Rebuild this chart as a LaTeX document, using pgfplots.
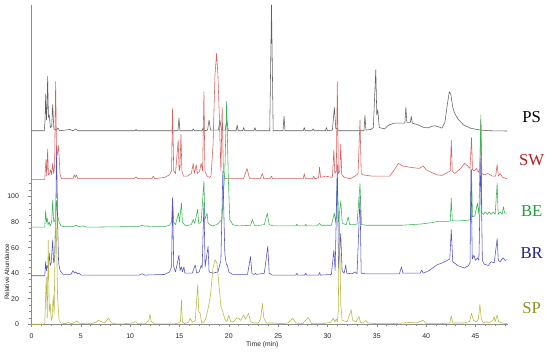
\documentclass[border=0pt]{standalone}
\usepackage{fontspec}
\setmainfont{Liberation Sans}
\newfontfamily\serif{Liberation Serif}
\usepackage{pgfplots}
\pgfplotsset{compat=1.18}

\definecolor{psline}{HTML}{606060}
\definecolor{swline}{HTML}{DB5C5C}
\definecolor{beline}{HTML}{36B552}
\definecolor{brline}{HTML}{5252C6}
\definecolor{spline}{HTML}{B8B845}
\definecolor{swlab}{HTML}{B01E1E}
\definecolor{belab}{HTML}{1F9E3A}
\definecolor{brlab}{HTML}{1F1F99}
\definecolor{splab}{HTML}{8F8F1F}

\begin{document}
\begin{tikzpicture}
% page = 550 x 354 px at 0.75pt per px, axis origin at (31.5px, 324.3px from top)
\path[use as bounding box] (-23.6pt,-22.3pt) rectangle (388.9pt,243.2pt);
\begin{axis}[
  scale only axis, width=357.4pt, height=239.5pt,
  xmin=0, xmax=48.3, ymin=0, ymax=250,
  axis lines=left, axis line style={-, black!45, line width=0.5pt},
  tick align=outside, tick style={black!45, line width=0.4pt},
  major tick length=2.4pt, minor tick length=1.6pt,
  xtick={0,5,...,45}, minor xtick={1,...,48},
  ytick={0,20,...,100},
  minor ytick={5,10,15,25,30,35,45,50,55,65,70,75,85,90,95,105,110},
  /pgf/number format/assume math mode=true,
  tick label style={font=\fontsize{5.2}{5.5}\selectfont, text=black!85},
  yticklabel style={xshift=-3.5pt},
  xticklabel style={yshift=-1.2pt},
  clip=false,
  every axis plot/.append style={line width=0.42pt, line join=round},
]
% PS
\addplot[psline] coordinates {
(0,151.5)(1.3,151.5)(1.38,160)(1.44,180)(1.52,160)(1.58,170)(1.64,194)(1.72,162)(1.8,164)(1.92,154)(2.05,155)(2.15,172)(2.27,153)(2.5,152)(2.7,153.5)(2.85,151.5)(3.9,152.5)(4.2,151.5)(4.5,153)(4.7,151.5)(10.5,151.5)(10.6,152.5)(10.7,151.5)(14.85,151.5)(14.95,161.5)(15.05,151.5)(16.3,151.5)(16.4,153)(16.5,151.5)(17.3,151.5)(17.4,154)(17.5,151.5)(17.85,152)(18.0,160)(18.15,152)(18.95,152)(19.1,160)(19.25,152)(19.65,152)(19.8,160)(19.95,151.5)(20.75,151.5)(20.85,156)(20.95,151.5)(21.4,151.5)(21.5,154)(21.6,151.5)(22.55,151.5)(22.65,154)(22.75,151.5)(24.15,151.5)(24.33,250)(24.5,151.5)(25.5,151.5)(25.6,163)(25.7,151.5)(27.55,151.5)(27.65,154)(27.75,151.5)(28.45,151.5)(28.55,153)(28.65,151.5)(29.8,151.5)(29.9,154)(30.0,151.5)(30.5,152)(30.7,169.7)(30.85,153)(31.0,153.5)(31.1,151.5)(33.7,151.5)(33.8,163.5)(33.9,152)(34.4,152.5)(34.65,154)(34.9,199.3)(35.0,164)(35.1,168)(35.25,154)(35.5,153.5)(35.8,153)(36.2,156)(36.8,157.5)(37.5,157.5)(37.85,157.5)(37.95,170)(38.05,158)(38.4,158)(38.5,162.7)(38.6,157.5)(39.2,156)(39.8,154)(40.2,153.8)(40.6,155)(40.9,155.4)(41.3,154.5)(41.6,153.5)(41.9,158)(42.15,172)(42.35,182)(42.5,180)(42.7,170)(42.9,165)(43.3,160)(43.8,156)(44.5,153.5)(45.5,152)(46.5,151.5)(48.2,151.3)
};
% SW
\addplot[swline] coordinates {
(0,113.5)(1.35,113.5)(1.47,129)(1.55,116)(1.64,137)(1.72,117)(1.85,118)(1.94,121)(2.05,117)(2.15,126)(2.25,118)(2.35,125)(2.45,190)(2.55,130)(2.65,135)(2.72,140)(2.8,132)(2.9,117)(3.05,114)(4.2,114)(4.35,117)(4.45,115)(4.55,117)(4.7,114)(10.4,114)(10.6,115.5)(10.8,114)(12.2,114)(12.35,116)(12.5,114)(13.5,115)(14.0,117)(14.2,120)(14.3,169)(14.42,120)(14.6,118)(14.87,144)(14.97,120)(15.05,122)(15.15,149)(15.25,120)(15.4,116)(15.8,116)(16.2,118)(16.4,126)(16.5,118)(16.7,125)(16.8,118)(17.05,120)(17.2,126)(17.35,120)(17.48,182)(17.58,120)(17.8,116)(18.05,115)(18.2,116)(18.4,140)(18.6,195)(18.76,212)(18.9,195)(19.05,160)(19.2,120)(19.33,170)(19.45,120)(19.6,114)(21.5,114)(21.85,122)(22.1,114)(23.2,114)(23.4,118)(23.55,114)(24.2,114)(24.33,116)(24.45,114)(27.55,114)(27.65,118)(27.75,114)(28.5,114)(28.6,116)(28.7,114)(29.1,114.5)(29.2,123)(29.3,115)(29.6,115.5)(29.8,116)(30.1,115.5)(30.5,115)(30.65,136.6)(30.75,118)(30.9,120)(31.0,190)(31.1,118)(31.25,120)(31.35,141)(31.45,117)(31.7,115)(32.3,114)(32.8,116)(33.1,118)(33.3,160)(33.42,118)(33.6,117)(34.5,116)(35.5,116)(36.3,116)(36.7,120)(37.2,126)(37.6,124)(38.3,123)(39.3,122)(39.7,124)(40.0,121)(40.5,119)(41.1,117)(41.6,116.5)(42.2,119)(42.45,120)(42.55,144)(42.65,120)(42.9,118)(43.5,122)(43.9,126)(44.2,124)(44.45,122)(44.6,146)(44.7,121)(44.9,120)(45.1,122)(45.3,119)(45.45,122)(45.55,160)(45.65,118)(45.9,117)(46.3,118)(46.7,116)(47.05,116)(47.2,125)(47.32,116)(47.5,118)(47.75,115)(48.2,114)
};
% BE
\addplot[beline] coordinates {
(0,76)(1.35,76)(1.44,89)(1.52,80)(1.6,83)(1.68,78)(1.8,80)(1.9,77)(2.05,80)(2.15,97)(2.25,80)(2.35,81)(2.45,85)(2.55,97)(2.65,85)(2.8,80)(3.0,77)(3.3,76.5)(4.2,76.5)(4.5,77.5)(4.8,76.5)(5.2,77)(5.6,76)(10.8,76.5)(11.2,77.5)(11.5,76.8)(11.7,77)(12.0,76.3)(13.5,76.5)(14.0,77.5)(14.2,80)(14.3,99)(14.42,80)(14.6,78)(14.9,87)(15.0,80)(15.2,95)(15.3,80)(15.6,77)(16.2,78)(16.4,82)(16.55,79)(16.85,90)(16.95,79)(17.2,80)(17.48,112)(17.58,82)(17.8,87)(17.9,79)(18.3,77)(18.8,78)(19.3,82)(19.6,120)(19.78,174.5)(19.95,115)(20.1,82)(20.4,78)(21.0,77)(22.2,77.5)(22.4,82)(22.6,77.5)(22.9,77)(23.1,77.5)(23.6,78)(23.9,87)(24.1,78)(24.5,77)(26.8,77)(26.9,78.5)(27.0,77)(27.7,77)(27.8,78.3)(27.9,77)(28.9,77)(29.2,79)(29.35,77.5)(30.4,77.5)(30.7,87)(30.85,79)(31.0,115)(31.12,80)(31.35,96.6)(31.5,79)(31.9,78)(32.1,84)(32.25,78)(32.7,78)(33.0,78.5)(33.3,110)(33.45,78)(34.0,77.5)(36.0,77.5)(37.5,77.5)(38.5,78)(39.5,78.5)(40.5,79.5)(41.2,80.5)(42.2,80.5)(42.45,81)(42.55,98.7)(42.65,81)(43.5,81)(44.3,81.5)(44.5,82)(44.6,121)(44.7,84)(44.95,85)(45.2,94.8)(45.35,86)(45.55,164)(45.65,87)(45.8,86)(46.0,88)(46.2,86)(46.4,88)(46.6,86)(46.8,88)(47.0,86)(47.2,110.5)(47.3,86)(47.5,88)(47.7,86)(47.85,92)(47.95,87)(48.2,87)
};
% BR
\addplot[brline] coordinates {
(0,38)(1.35,38)(1.44,49)(1.52,42)(1.6,46)(1.7,44)(1.8,55.6)(1.9,46)(2.0,48)(2.15,66)(2.25,48)(2.35,50)(2.45,80)(2.55,136)(2.65,80)(2.75,48)(2.9,42)(3.2,39)(4.0,39)(4.2,42)(4.35,40)(4.5,41)(4.65,39.5)(4.8,40)(5.0,38.5)(10.9,38.5)(11.2,39.5)(11.5,38.5)(13.5,39)(14.0,41)(14.2,45)(14.3,99)(14.42,45)(14.6,41)(14.95,54)(15.05,42)(15.2,45)(15.3,41)(15.45,45)(15.55,40)(16.3,40)(16.6,46.5)(16.75,40)(17.0,41)(17.2,46)(17.3,44)(17.48,95)(17.6,45)(17.9,61)(18.0,41)(18.4,40)(18.9,41)(19.2,50)(19.4,120)(19.6,55)(19.75,47)(19.85,46.5)(20.0,41)(20.4,39)(21.9,39)(22.2,53)(22.35,39.5)(22.6,39)(22.7,40)(22.8,39)(23.6,40)(23.95,61)(24.1,40)(24.4,38.5)(26.8,38.5)(26.9,40)(27.0,38.5)(27.7,38.5)(27.8,40)(27.9,38.5)(29.1,38.5)(29.2,40.5)(29.3,38.5)(30.4,39)(30.65,58)(30.78,42)(31.0,125)(31.12,44)(31.35,71)(31.48,42)(31.7,40)(31.85,46.5)(31.95,40)(32.5,39.5)(32.8,41)(33.0,39.5)(33.3,100)(33.42,40)(33.8,39.5)(35.5,39.5)(37.3,39.5)(37.5,45)(37.65,40)(39.4,40)(39.55,42.5)(39.7,40)(40.3,42)(41.1,46.5)(41.6,48)(42.0,49.5)(42.4,51)(42.55,74)(42.7,49)(43.2,46)(43.9,44)(44.3,46)(44.45,48)(44.55,121)(44.68,51)(44.85,54)(45.0,50)(45.2,52)(45.35,50)(45.55,130)(45.7,50)(45.9,47)(46.3,46)(46.6,49)(46.9,48)(47.2,67)(47.32,50)(47.5,49)(47.8,52)(48.0,50)(48.2,50.5)
};
% SP
\addplot[spline] coordinates {
(0,0)(1.2,0)(1.35,1)(1.5,37)(1.6,5)(1.7,66)(1.8,10)(1.9,16)(2.0,3)(2.1,5)(2.2,23)(2.3,8)(2.45,95)(2.55,62)(2.65,20)(2.8,3)(3.0,1)(3.5,0.5)(3.7,1.5)(4.0,0.5)(4.3,1)(4.6,2.5)(4.8,1)(5.2,0.5)(5.6,1)(6.0,0.3)(6.5,1.5)(6.8,3)(7.2,1.5)(7.5,1.5)(7.8,5)(8.1,1)(8.6,0.3)(9.3,0.3)(9.8,0.8)(10.2,1)(10.5,2)(10.8,0.5)(11.5,0.3)(11.9,3)(12.0,8)(12.15,2)(12.5,0.3)(14.5,0.3)(14.9,1)(15.1,2)(15.2,19)(15.3,2)(15.5,0.5)(15.9,1.5)(16.1,4.7)(16.3,1.5)(16.6,3)(16.85,31)(16.95,10)(17.1,8.6)(17.25,1)(17.45,1.5)(17.65,4)(17.9,12)(18.15,23)(18.4,44)(18.6,50.4)(18.8,48)(19.0,31)(19.2,14)(19.35,11)(19.6,4)(19.8,2)(20.0,7)(20.2,2)(20.5,2)(20.8,5)(21.0,4.7)(21.2,3)(21.5,7.3)(21.7,4)(22.0,8.6)(22.2,2)(22.6,1)(23.0,1)(23.25,5)(23.4,16.4)(23.55,5)(23.8,1)(24.5,1)(25.3,0.5)(26.0,1)(26.5,4.7)(26.8,1)(27.5,0.5)(28.05,5.2)(28.4,0.5)(29.5,0.5)(30.3,1.5)(30.6,4.7)(30.75,2)(30.9,4)(31.0,2)(31.1,10)(31.2,88)(31.35,15)(31.5,3)(32.0,2)(32.4,11.5)(32.55,3)(32.9,2)(33.2,6)(33.35,1.5)(33.6,1)(33.9,3)(34.1,1)(35.0,0.5)(36.5,0.5)(37.5,1)(38.5,1.5)(39.0,1)(39.7,3.1)(40.0,0.5)(41.5,0.5)(42.4,1)(42.55,6.5)(42.7,1)(43.8,1)(44.4,2)(44.6,8.6)(44.8,3)(45.1,2)(45.3,4)(45.45,15.9)(45.6,4)(45.8,1)(46.1,2)(46.4,1)(46.75,3)(46.9,6)(47.0,2)(47.2,7.3)(47.35,2)(47.7,1)(48.2,0.5)
};
% trace names
\node[font=\serif\fontsize{12.5}{12.5}\selectfont, text=black] at (axis cs:50.7,162.5) {PS};
\node[font=\serif\fontsize{12.5}{12.5}\selectfont, text=swlab] at (axis cs:50.7,128.7) {SW};
\node[font=\serif\fontsize{12.5}{12.5}\selectfont, text=belab] at (axis cs:50.7,88.5) {BE};
\node[font=\serif\fontsize{12.5}{12.5}\selectfont, text=brlab] at (axis cs:50.7,55.6) {BR};
\node[font=\serif\fontsize{12.5}{12.5}\selectfont, text=splab] at (axis cs:50.7,12.7) {SP};
% axis titles
\node[font=\fontsize{5.1}{5.5}\selectfont, text=black!85] at (axis cs:23.4,-16.2) {Time (min)};
\node[font=\fontsize{4.7}{5}\selectfont, text=black!85, rotate=90] at (axis cs:-2.48,41) {Relative Abundance};
\end{axis}
\end{tikzpicture}
\end{document}
